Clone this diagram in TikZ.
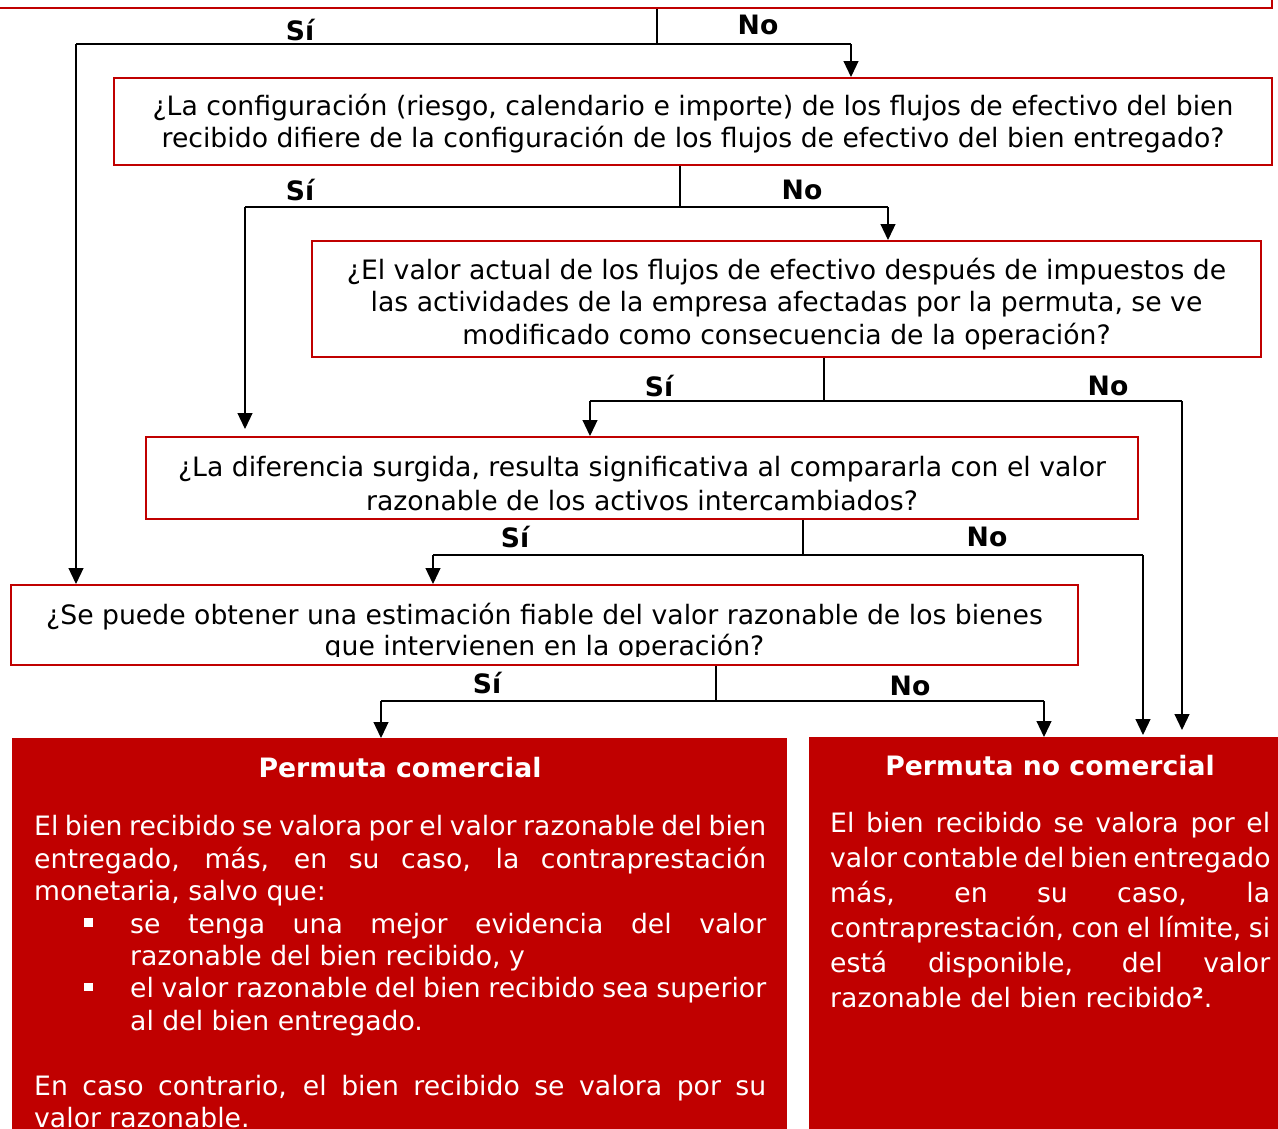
\documentclass[tikz,border=0pt]{standalone}
\usepackage{fontspec}
\setmainfont{DejaVu Sans}
\usetikzlibrary{arrows.meta}
\definecolor{rojo}{RGB}{192,0,0}
\begin{document}
\begin{tikzpicture}[x=1pt,y=-1pt,
  qbox/.style={draw=rojo, line width=2pt, fill=white, inner sep=0pt, align=center, font=\fontsize{26.67}{32.4}\selectfont},
  rbox/.style={fill=rojo, draw=none, inner sep=0pt, anchor=north west},
  conn/.style={line width=1.2pt, draw=black},
  arr/.style={conn, -{Triangle[width=15pt,length=16pt]}},
  lbl/.style={font=\fontsize{26.67}{32}\selectfont\bfseries, inner sep=0pt},
  ttl/.style={font=\fontsize{26.67}{32}\selectfont\bfseries, text=white, inner sep=0pt},
  body/.style={text=white, inner sep=0pt, anchor=north west, align=left},
]
\clip (0,0) rectangle (1278,1128);
\fill[white] (0,0) rectangle (1278,1128);

% question boxes
\node[qbox, minimum width=1292pt, minimum height=68pt] (q0) at (626,-26) {};
\node[qbox, minimum width=1158pt, minimum height=87pt] (q1) at (693,121.5)
  {\rule{0pt}{26pt}¿La configuración (riesgo, calendario e importe) de los flujos de efectivo del bien\\recibido difiere de la configuración de los flujos de efectivo del bien entregado?};
\node[qbox, minimum width=949pt, minimum height=116pt] (q2) at (786.5,299)
  {\rule{0pt}{31pt}¿El valor actual de los flujos de efectivo después de impuestos de\\las actividades de la empresa afectadas por la permuta, se ve\\modificado como consecuencia de la operación?};
\node[qbox, minimum width=992pt, minimum height=82pt, font=\fontsize{26.67}{34}\selectfont] (q3) at (642,478)
  {\rule{0pt}{31pt}¿La diferencia surgida, resulta significativa al compararla con el valor\\razonable de los activos intercambiados?};
\node[qbox, minimum width=1067pt, minimum height=80pt] (q4) at (544.5,625) {};
\begin{scope}
  \clip (q4.north west) rectangle ([yshift=10pt]q4.south east);
  \node[align=center, inner sep=0pt, font=\fontsize{26.67}{31}\selectfont] (t4) at (544.5,632)
    {¿Se puede obtener una estimación fiable del valor razonable de los bienes\\que intervienen en la operación?};
\end{scope}

% result boxes
\node[rbox, minimum width=775pt, minimum height=400pt] (pc) at (12,738) {};
\node[rbox, minimum width=480pt, minimum height=400pt] (pnc) at (809,737) {};
\node[ttl] (tpc) at (400,768) {Permuta comercial};
\node[ttl] (tpnc) at (1050,766) {Permuta no comercial};

\node[body, text width=732pt, font=\fontsize{26.67}{32.4}\selectfont] (bpc) at (34,813)
  {\spaceskip=0pt\xspaceskip=0pt
   \strut\makebox[732pt][s]{El bien recibido se valora por el valor razonable del bien}\\
   \makebox[732pt][s]{entregado, más, en su caso, la contraprestación}\\
   monetaria, salvo que:\\
   \hspace*{50pt}\makebox[46pt][l]{\rule[6.5pt]{8.5pt}{8.5pt}}\makebox[636pt][s]{se tenga una mejor evidencia del valor}\\
   \hspace*{96pt}razonable del bien recibido, y\\
   \hspace*{50pt}\makebox[46pt][l]{\rule[6.5pt]{8.5pt}{8.5pt}}\makebox[636pt][s]{el valor razonable del bien recibido sea superior}\\
   \hspace*{96pt}al del bien entregado.\\[32.4pt]
   \makebox[732pt][s]{En caso contrario, el bien recibido se valora por su}\\
   valor razonable.};

\node[body, text width=440pt, font=\fontsize{26.67}{35}\selectfont] (bpnc) at (830,807.5)
  {\spaceskip=0pt\xspaceskip=0pt
   \strut\makebox[440pt][s]{El bien recibido se valora por el}\\
   \makebox[440pt][s]{valor contable del bien entregado}\\
   \makebox[440pt][s]{más, en su caso, la}\\
   \makebox[440pt][s]{contraprestación, con el límite, si}\\
   \makebox[440pt][s]{está disponible, del valor}\\
   razonable del bien recibido\textbf{²}.};

% labels
\node[lbl] (s0) at (300,30) {Sí};   \node[lbl] (n0) at (758,25) {No};
\node[lbl] (s1) at (300,190) {Sí};  \node[lbl] (n1) at (802,190) {No};
\node[lbl] (s2) at (659,386) {Sí};  \node[lbl] (n2) at (1108,386) {No};
\node[lbl] (s3) at (515,537) {Sí};  \node[lbl] (n3) at (987,537) {No};
\node[lbl] (s4) at (487,683) {Sí};  \node[lbl] (n4) at (910,686) {No};

% connectors
\coordinate (j0) at (657,44); \coordinate (l0) at (76,44); \coordinate (r0) at (851,44);
\draw[conn] (j0 |- q0.south) -- (j0);
\draw[conn] (l0) -- (r0);
\draw[arr] (l0) -- (l0 |- q4.north);
\draw[arr] (r0) -- (r0 |- q1.north);

\coordinate (j1) at (680,207); \coordinate (l1) at (245,207); \coordinate (r1) at (888,207);
\draw[conn] (j1 |- q1.south) -- (j1);
\draw[conn] (l1) -- (r1);
\draw[arr, shorten >=7pt] (l1) -- (l1 |- q3.north);
\draw[arr] (r1) -- (r1 |- q2.north);

\coordinate (j2) at (824,401); \coordinate (l2) at (590,401); \coordinate (r2) at (1182,401);
\draw[conn] (j2 |- q2.south) -- (j2);
\draw[conn] (l2) -- (r2);
\draw[arr] (l2) -- (l2 |- q3.north);
\draw[arr, shorten >=7pt] (r2) -- (r2 |- pnc.north);

\coordinate (j3) at (803,555); \coordinate (l3) at (433,555); \coordinate (r3) at (1143,555);
\draw[conn] (j3 |- q3.south) -- (j3);
\draw[conn] (l3) -- (r3);
\draw[arr] (l3) -- (l3 |- q4.north);
\draw[arr, shorten >=2pt] (r3) -- (r3 |- pnc.north);

\coordinate (j4) at (716,701); \coordinate (l4) at (381,701); \coordinate (r4) at (1044,701);
\draw[conn] (j4 |- q4.south) -- (j4);
\draw[conn] (l4) -- (r4);
\draw[arr] (l4) -- (l4 |- pc.north);
\draw[arr] (r4) -- (r4 |- pnc.north);
\end{tikzpicture}
\end{document}
